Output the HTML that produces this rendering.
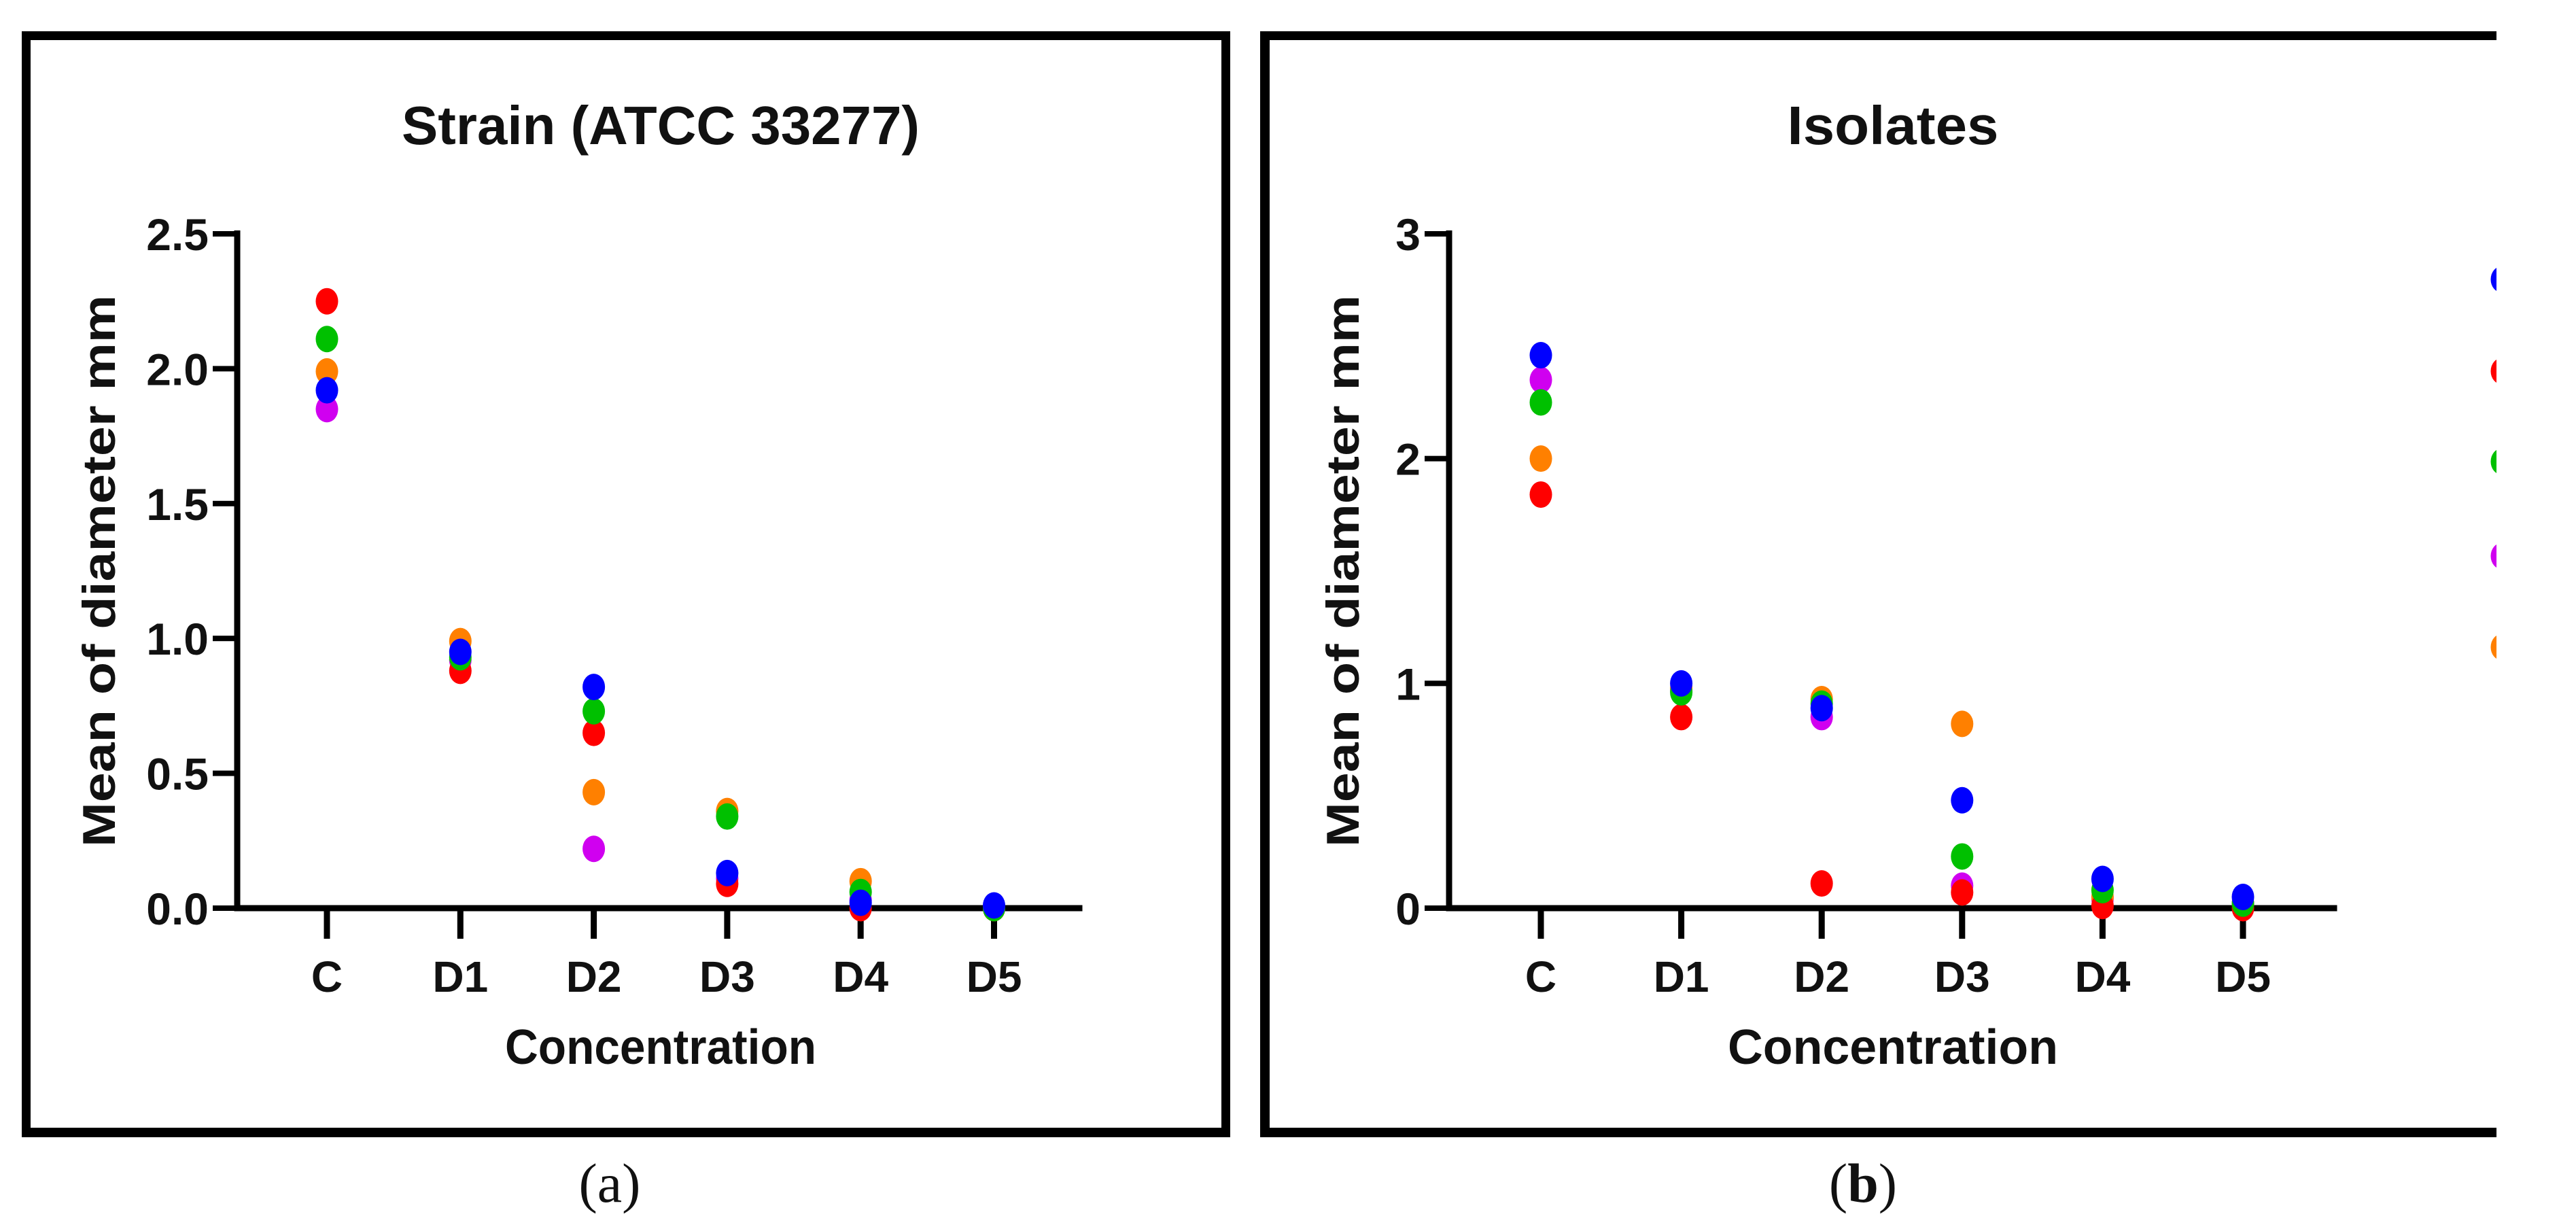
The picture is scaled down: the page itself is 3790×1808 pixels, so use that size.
<!DOCTYPE html>
<html><head><meta charset="utf-8"><style>
html,body{margin:0;padding:0;background:#fff;width:3790px;height:1808px;overflow:hidden}
svg{display:block}
text{font-family:"Liberation Sans",sans-serif;font-weight:bold;fill:#111}
</style></head><body>
<svg id="fig" width="3790" height="1808" viewBox="0 0 3790 1808" xmlns="http://www.w3.org/2000/svg">
<defs><clipPath id="rclip"><rect x="0" y="0" width="3673" height="1808"/></clipPath></defs>
<g>
<rect x="38" y="46" width="1770" height="13" fill="#000"/>
<rect x="32" y="46" width="13" height="1627" fill="#000"/>
<rect x="1797" y="46" width="13" height="1627" fill="#000"/>
<rect x="32" y="1659" width="1778" height="14" fill="#000"/>
</g>
<g>
<rect x="1854" y="46" width="1819" height="13" fill="#000"/>
<rect x="1854" y="46" width="14" height="1627" fill="#000"/>
<rect x="1854" y="1659" width="1819" height="14" fill="#000"/>
</g>
<text x="897" y="1768" font-size="82" style="font-family:'Liberation Serif',serif;font-weight:normal" text-anchor="middle">(a)</text>
<text x="2741" y="1768" font-size="82" style="font-family:'Liberation Serif',serif;font-weight:normal" text-anchor="middle">(<tspan font-weight="bold" style="font-weight:bold">b</tspan>)</text>
<g id="pa"></g>
<g id="pb"></g>
<g id="legend" clip-path="url(#rclip)"></g>
</svg>
<script>
const categories = ["C","D1","D2","D3","D4","D5"];
const seriesNames = ["magenta","orange","red","green","blue"];
const seriesColors = ["#d000f0","#ff8000","#ff0000","#00c000","#0000ff"];
// Panel a values (per series, per category)
const aMagenta = [1.85,0.92,0.22,0.11,0.03,0.00];
const aOrange  = [1.99,0.99,0.43,0.36,0.10,0.00];
const aRed     = [2.25,0.88,0.65,0.09,0.00,0.00];
const aGreen   = [2.11,0.93,0.73,0.34,0.06,0.00];
const aBlue    = [1.92,0.95,0.82,0.13,0.02,0.01];
const aTicks = ["0.0","0.5","1.0","1.5","2.0","2.5"];
const aTickVals = [0,0.5,1,1.5,2,2.5];
// Panel b values
const bMagenta = [2.35,0.97,0.85,0.10,0.04,0.02];
const bOrange  = [2.00,0.98,0.93,0.82,0.05,0.02];
const bRed     = [1.84,0.85,0.11,0.07,0.01,0.00];
const bGreen   = [2.25,0.96,0.91,0.23,0.08,0.02];
const bBlue    = [2.46,1.00,0.89,0.48,0.13,0.05];
const bTicks = ["0","1","2","3"];
const bTickVals = [0,1,2,3];
const legendColors = ["#0000ff","#ff0000","#00c000","#d000f0","#ff8000"];

const NS="http://www.w3.org/2000/svg";
function mk(parent,tag,attrs,txt){const e=document.createElementNS(NS,tag);for(const k in attrs)e.setAttribute(k,attrs[k]);if(txt!==undefined)e.textContent=txt;parent.appendChild(e);return e;}

function drawPanel(g,cfg){
  const y0=1336, yTop=344;
  const yScale=v=>y0-(v/cfg.ymax)*(y0-yTop);
  const xScale=i=>cfg.x0+i*cfg.dx;
  const ya=mk(g,'rect',{x:cfg.ax-4.5,y:yTop-5,width:9,height:y0-yTop+9,fill:'#000'});
  
  
  const xa=mk(g,'rect',{x:cfg.ax-4.5,y:y0-4.5,width:cfg.axEnd-cfg.ax,height:9,fill:'#000'});
  
  
  cfg.tickVals.forEach((v,i)=>{
    const yy=yScale(v);
    const t=mk(g,'rect',{x:cfg.ax-36,y:yy-4,width:36,height:8,fill:'#000'});
    
    
    const l=mk(g,'text',{x:cfg.ax-42,y:yy+24,'font-size':66,'text-anchor':'end'},cfg.ticks[i]);
    
    
  });
  categories.forEach((c,i)=>{
    const xx=xScale(i);
    const t=mk(g,'rect',{x:xx-4.5,y:y0,width:9,height:45,fill:'#000'});
    
    
    const l=mk(g,'text',{x:xx,y:1459,'font-size':64,'text-anchor':'middle'},c);
    
    
  });
  cfg.series.forEach((vals,s)=>{
    vals.forEach((v,i)=>{
      const d=mk(g,'ellipse',{cx:xScale(i),cy:yScale(v),rx:16.5,ry:19.5,fill:seriesColors[s]});
      
      
    });
  });
  const ti=mk(g,'text',{x:cfg.tx,y:212,'font-size':80,'text-anchor':'middle',textLength:cfg.tLen,lengthAdjust:'spacingAndGlyphs'},cfg.title);
  
  
  const xt=mk(g,'text',{x:cfg.tx,y:1565,'font-size':72,'text-anchor':'middle',textLength:cfg.xLen,lengthAdjust:'spacingAndGlyphs'},'Concentration');
  
  
  const yt=mk(g,'text',{x:0,y:0,'font-size':68,'text-anchor':'middle',textLength:812,lengthAdjust:'spacingAndGlyphs',transform:`translate(${cfg.ytx},840) rotate(-90)`},'Mean of diameter mm');
  
  
}
drawPanel(document.getElementById('pa'),{ymax:2.5,ax:349,axEnd:1597,x0:481,dx:196.3,ticks:aTicks,tickVals:aTickVals,
  series:[aMagenta,aOrange,aRed,aGreen,aBlue],title:'Strain (ATCC 33277)',tx:972,tLen:762,xLen:458,ytx:169});
drawPanel(document.getElementById('pb'),{ymax:3,ax:2132,axEnd:3443,x0:2267,dx:206.6,ticks:bTicks,tickVals:bTickVals,
  series:[bMagenta,bOrange,bRed,bGreen,bBlue],title:'Isolates',tx:2785,tLen:311,xLen:486,ytx:1999});
const lg=document.getElementById('legend');
const legendY=[411,546,679,818,952];
legendColors.forEach((c,i)=>{
  const e=mk(lg,'ellipse',{cx:3681,cy:legendY[i],rx:16.5,ry:19.5,fill:c});
  
  
});
</script>
</body></html>
